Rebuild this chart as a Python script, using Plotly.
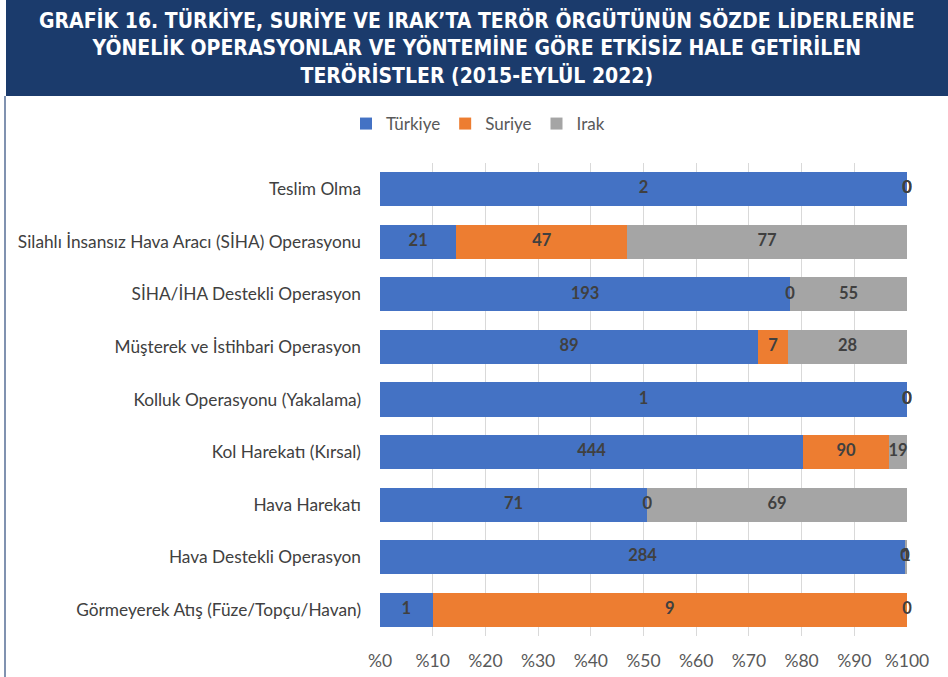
import plotly.graph_objects as go

categories = [
    "Teslim Olma",
    "Silahlı İnsansız Hava Aracı (SİHA) Operasyonu",
    "SİHA/İHA Destekli Operasyon",
    "Müşterek ve İstihbari Operasyon",
    "Kolluk Operasyonu (Yakalama)",
    "Kol Harekatı (Kırsal)",
    "Hava Harekatı",
    "Hava Destekli Operasyon",
    "Görmeyerek Atış (Füze/Topçu/Havan)",
]
turkiye = [2, 21, 193, 89, 1, 444, 71, 284, 1]
suriye = [0, 47, 0, 7, 0, 90, 0, 0, 9]
irak = [0, 77, 55, 28, 0, 19, 69, 1, 0]
series_names = ["Türkiye", "Suriye", "Irak"]
colors = ["#4472c4", "#ed7d31", "#a5a5a5"]
tick_vals = [0, 10, 20, 30, 40, 50, 60, 70, 80, 90, 100]
tick_text = ["%" + str(v) for v in tick_vals]

W, H = 948, 677
ML, MR, MT, MB = 380, 41, 163, 41
PW, PH = W - ML - MR, H - MT - MB


def px_x(px):
    return (px - ML) / PW


def px_y(py):
    return 1 - (py - MT) / PH


fig = go.Figure()
all_series = [turkiye, suriye, irak]
for name, vals, col in zip(series_names, all_series, colors):
    fig.add_trace(go.Bar(
        y=categories, x=vals, name=name, orientation="h",
        marker=dict(color=col, line=dict(width=0)),
        hoverinfo="skip",
    ))

# label positions (percent midpoints)
for si, vals in enumerate(all_series):
    xs, ts = [], []
    for ci in range(len(categories)):
        tot = turkiye[ci] + suriye[ci] + irak[ci]
        before = sum(all_series[k][ci] for k in range(si))
        mid = (before + vals[ci] / 2) / tot * 100
        xs.append(mid)
        ts.append("<b>%d</b>" % vals[ci])
    fig.add_trace(go.Scatter(
        x=xs, y=categories, mode="text", text=ts, showlegend=False,
        textfont=dict(family="Lato, Liberation Sans, sans-serif", size=16.5, color="#404040"),
        hoverinfo="skip", cliponaxis=False,
    ))

fig.update_layout(
    barmode="stack", barnorm="percent", bargap=0.35,
    width=W, height=H,
    margin=dict(l=ML, r=MR, t=MT, b=MB, autoexpand=False),
    paper_bgcolor="white", plot_bgcolor="white",
    font=dict(family="Lato, Liberation Sans, sans-serif", color="#404040"),
    legend=dict(orientation="h", x=px_x(478), y=px_y(124), xanchor="center", yanchor="middle",
                font=dict(size=17, color="#595959"), itemwidth=30, traceorder="normal"),
    xaxis=dict(range=[0, 100], tickvals=tick_vals, ticktext=tick_text, showgrid=True,
               gridcolor="#d9d9d9", gridwidth=1, zeroline=False,
               tickfont=dict(size=17.5, color="#595959"), ticklabelstandoff=12, fixedrange=True),
    yaxis=dict(autorange="reversed", tickfont=dict(size=17.3, color="#404040"),
               ticklabelstandoff=18, showgrid=False, fixedrange=True),
    shapes=[
        dict(type="rect", xref="paper", yref="paper", x0=px_x(6), x1=px_x(948),
             y0=px_y(96), y1=px_y(0), fillcolor="#1b3b6c", line=dict(width=0), layer="below"),
        dict(type="line", xref="paper", yref="paper", x0=px_x(5), x1=px_x(5),
             y0=px_y(677), y1=px_y(96), line=dict(color="#8092b0", width=2)),
    ],
    annotations=[
        dict(xref="paper", yref="paper", x=px_x(477), y=px_y(48), xanchor="center", yanchor="middle",
             showarrow=False, align="center",
             text="<b>GRAFİK 16. TÜRKİYE, SURİYE VE IRAK’TA TERÖR ÖRGÜTÜNÜN SÖZDE LİDERLERİNE<br>"
                  "YÖNELİK OPERASYONLAR VE YÖNTEMİNE GÖRE ETKİSİZ HALE GETİRİLEN<br>"
                  "TERÖRİSTLER (2015-EYLÜL 2022)</b>",
             font=dict(family="Liberation Sans Narrow, DejaVu Sans Condensed, sans-serif",
                       size=21, color="white")),
    ],
)

fig.write_html("out.html", config={"displayModeBar": False},
               post_script="document.body.style.margin='0';document.body.style.overflow='hidden';")
